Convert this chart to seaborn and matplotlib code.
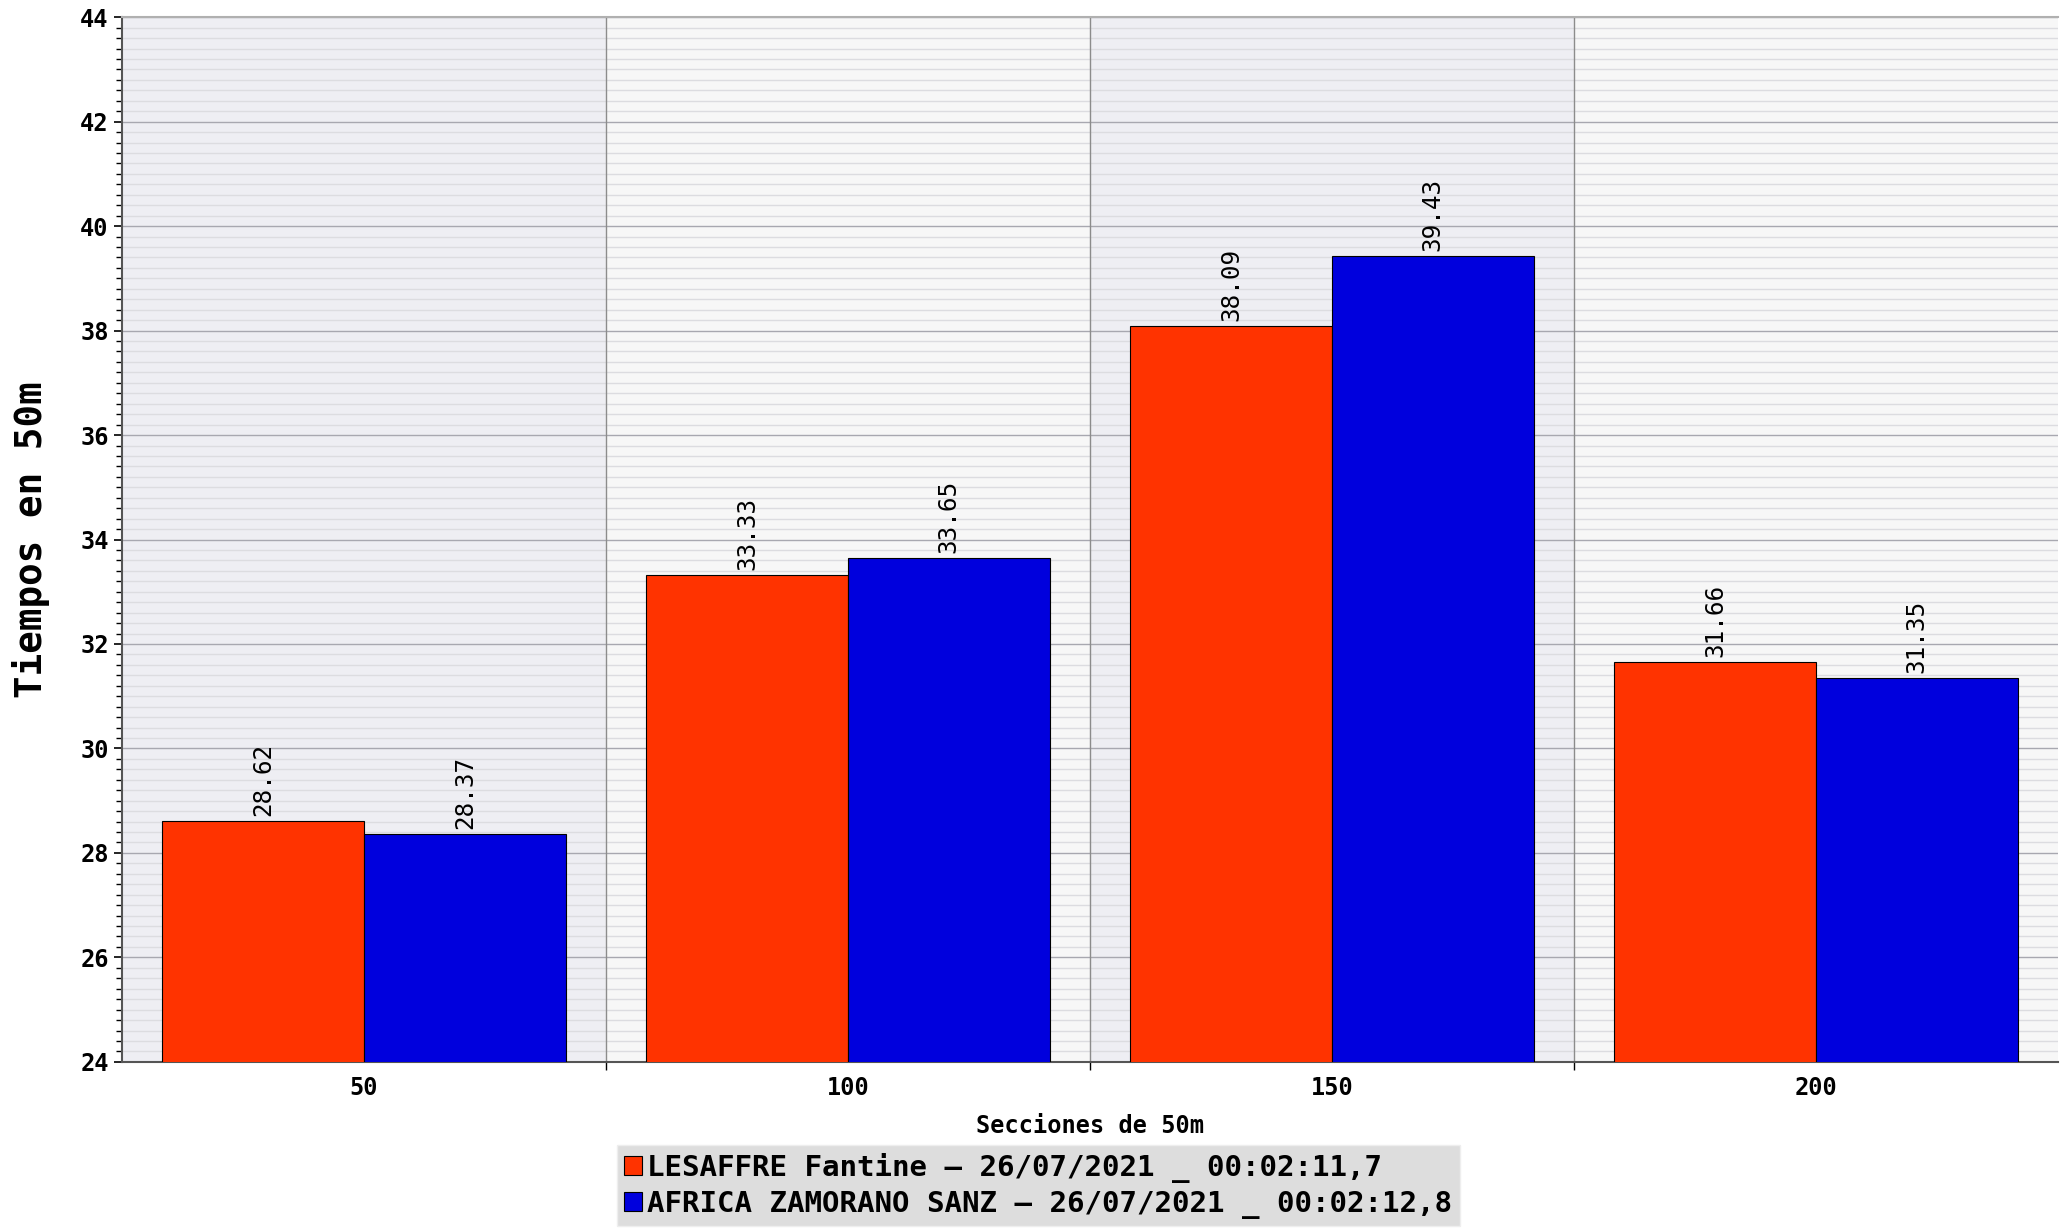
import matplotlib
matplotlib.use("Agg")
import matplotlib.pyplot as plt
from matplotlib.ticker import MultipleLocator, FixedLocator
import seaborn as sns
import pandas as pd

# Datos del gráfico
secciones = ["50", "100", "150", "200"]
nadador_1 = "LESAFFRE Fantine – 26/07/2021 _ 00:02:11,7"
nadador_2 = "AFRICA ZAMORANO SANZ – 26/07/2021 _ 00:02:12,8"
tiempos_1 = [28.62, 33.33, 38.09, 31.66]
tiempos_2 = [28.37, 33.65, 39.43, 31.35]

df = pd.DataFrame({
    "seccion": secciones * 2,
    "tiempo": tiempos_1 + tiempos_2,
    "nadador": [nadador_1] * len(secciones) + [nadador_2] * len(secciones),
})

sns.set_theme(style="white")
plt.rcParams['font.family'] = ['DejaVu Sans Mono', 'DejaVu Sans']
plt.rcParams['text.color'] = 'black'
plt.rcParams['axes.labelcolor'] = 'black'
plt.rcParams['xtick.color'] = 'black'
plt.rcParams['ytick.color'] = 'black'

fig = plt.figure(figsize=(20.6, 12.29), dpi=100)
ax = fig.add_axes([0.0592, 0.136, 0.9398, 0.850])

# Bandas de fondo alternas por sección
for i in range(len(secciones)):
    ax.axvspan(i - 0.5, i + 0.5, color="#eeeef3" if i % 2 == 0 else "#f7f7f7", zorder=0)

sns.barplot(data=df, x="seccion", y="tiempo", hue="nadador",
            palette=["#ff3300", "#0000dd"], width=0.834,
            edgecolor="black", linewidth=0.8, saturation=1, ax=ax, zorder=3)

for cont in ax.containers:
    ax.bar_label(cont, fmt="%.2f", rotation=90, padding=3.5, fontsize=17.5,
                 color="black", zorder=4)

ax.set_xlim(-0.5, len(secciones) - 0.5)
ax.set_ylim(24, 44)
ax.yaxis.set_major_locator(MultipleLocator(2))
ax.yaxis.set_minor_locator(MultipleLocator(0.2))
fronteras = [i + 0.5 for i in range(len(secciones) - 1)]
ax.xaxis.set_minor_locator(FixedLocator(fronteras))

ax.grid(which="major", axis="y", color="#a8a8b0", linewidth=1.0)
ax.grid(which="minor", axis="y", color="#dcdce0", linewidth=1.0)
ax.set_axisbelow(True)
# líneas verticales entre secciones, por encima de la rejilla menor
for xb in fronteras:
    ax.axvline(xb, color="#8c8c8c", linewidth=1.0, zorder=1.5)

ax.tick_params(axis="y", which="major", direction="out", length=6, width=1.2,
               color="black", labelsize=17, left=True)
ax.tick_params(axis="y", which="minor", direction="out", length=4, width=1,
               color="black", left=True)
ax.tick_params(axis="x", which="major", length=0, labelsize=17, pad=10)
ax.tick_params(axis="x", which="minor", direction="out", length=6, color="black", bottom=True)
for lab in ax.get_xticklabels() + ax.get_yticklabels():
    lab.set_fontweight("bold")

for s in ["left", "bottom"]:
    ax.spines[s].set_color("#555555")
    ax.spines[s].set_linewidth(1.5)
ax.spines["top"].set_color("#b0b0b0")
ax.spines["top"].set_linewidth(1.5)
ax.spines["right"].set_visible(False)

ax.set_xlabel("Secciones de 50m", fontsize=17, fontweight="bold", labelpad=10)
ax.set_ylabel("Tiempos en 50m", fontsize=27, fontweight="bold", labelpad=22)

sns.move_legend(ax, "upper center", bbox_to_anchor=(0.504, 0.068),
                bbox_transform=fig.transFigure, title=None, frameon=True,
                handlelength=0.6, handleheight=0.6,
                handletextpad=0.2, borderpad=0.25, labelspacing=0.25,
                borderaxespad=0, fancybox=False, facecolor="#dddddd",
                edgecolor="#eeeeee", framealpha=1,
                prop={"family": ["DejaVu Sans Mono", "DejaVu Sans"], "weight": "bold", "size": 21})

fig.savefig("out.png", dpi=100)
